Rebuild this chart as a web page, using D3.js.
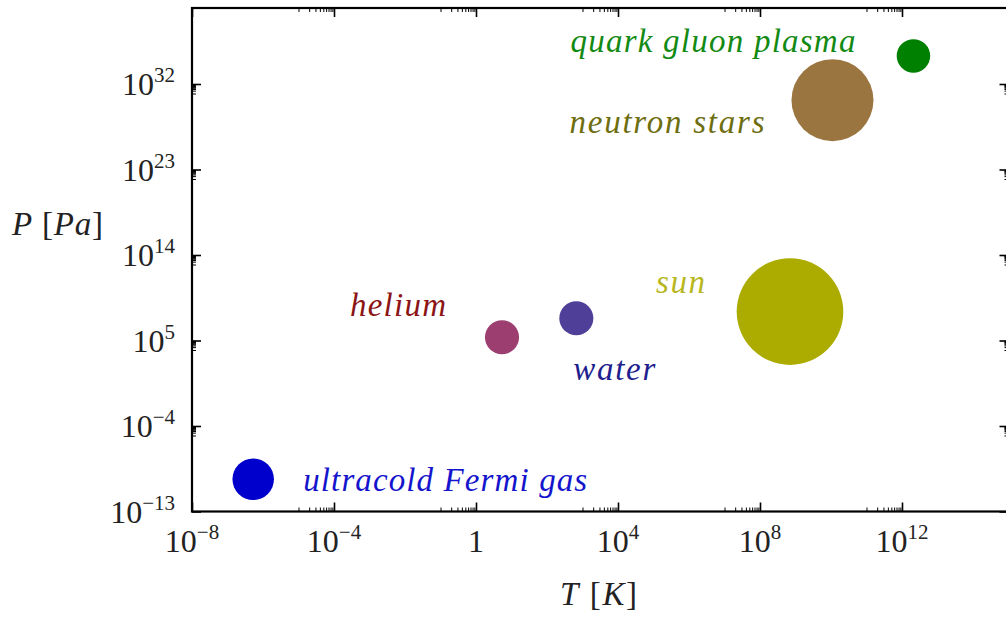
<!DOCTYPE html>
<html>
<head>
<meta charset="utf-8">
<script src="https://cdn.jsdelivr.net/npm/d3@7"></script>
<style>
  body { margin: 0; background: #fff; }
  text { font-family: "Liberation Serif", "Times New Roman", serif; }
</style>
</head>
<body>
<div id="chart"></div>
<script>
// states of matter: temperature [K] vs pressure [Pa]
const names = ["ultracold Fermi gas", "helium", "water", "sun", "neutron stars", "quark gluon plasma"]
const temps = [5.3e-7, 5.4, 670, 7e8, 1.1e10, 2.1e12]
const pressures = [2.5e-10, 2.2e5, 2.2e7, 1.1e8, 2e30, 9e34]
const weights = [4.3, 2.9, 2.9, 28.4, 16.8, 2.8]
const dotColors = ["#0000cc", "#9c3f70", "#503f98", "#abab00", "#9b7540", "#008000"]
const labelColors = ["#1414cc", "#8b1515", "#1e1e8e", "#b8b81e", "#6e6e10", "#138a13"]

const xTickExps = [-8, -4, 0, 4, 8, 12]
const yTickExps = [-13, -4, 5, 14, 23, 32]

// label placement, pixel offsets from bubble centre (layout only)
const labelLayout = [
	{dx: 50, dy: 12, w: 284},
	{dx: -152, dy: -21, w: 96},
	{dx: -3, dy: 62, w: 82},
	{dx: -134, dy: -19, w: 49},
	{dx: -263, dy: 33, w: 195},
	{dx: -343, dy: -4, w: 285}
]

const W = 1006, H = 617
const pLeft = 192, pRight = 1008.5, pTop = 8, pBottom = 511.5

const svg = d3.select("#chart").append("svg")
	.attr("width", W)
	.attr("height", H)

const x = d3.scaleLog().domain([1e-8, 1e15]).range([pLeft, pRight])
const y = d3.scaleLog().domain([1e-13, 1e40]).range([pBottom, pTop])
const r = d3.scaleSqrt().domain([0, d3.max(weights)]).range([0, 53.3])

function minorVals(exps, scale) {
	let out = []
	let d = scale.domain()
	exps.forEach(function(k) {
		for (let m = 1; m <= 9; m++) {
			let v = m * Math.pow(10, k - 1)
			if (v > d[0] && v < d[1]) out.push(v)
		}
	})
	return out
}

const xMajor = xTickExps.map(function(k) { return Math.pow(10, k) })
const yMajor = yTickExps.map(function(k) { return Math.pow(10, k) })
const xMinor = minorVals(xTickExps, x)
const yMinor = minorVals(yTickExps, y)

// ticks on all four sides, pointing inwards
function drawAxis(axisFn, scale, vals, len, sw, tx, ty) {
	let g = svg.append("g")
		.attr("transform", "translate(" + tx + "," + ty + ")")
		.call(axisFn(scale).tickValues(vals).tickSizeInner(-len).tickSizeOuter(0).tickFormat(""))
	g.select(".domain").remove()
	g.selectAll(".tick line").attr("stroke", "#000").attr("stroke-width", sw)
	return g
}

drawAxis(d3.axisBottom, x, xMinor, 4, 1, 0, pBottom)
drawAxis(d3.axisTop, x, xMinor, 4, 1, 0, pTop)
drawAxis(d3.axisLeft, y, yMinor, 4, 1, pLeft, 0)
drawAxis(d3.axisRight, y, yMinor, 4, 1, pRight, 0)
drawAxis(d3.axisBottom, x, xMajor, 9, 1.6, 0, pBottom)
drawAxis(d3.axisTop, x, xMajor, 9, 1.6, 0, pTop)
drawAxis(d3.axisLeft, y, yMajor, 9, 1.6, pLeft, 0)
drawAxis(d3.axisRight, y, yMajor, 9, 1.6, pRight, 0)

// frame
svg.append("rect")
	.attr("x", pLeft)
	.attr("y", pTop)
	.attr("width", pRight - pLeft)
	.attr("height", pBottom - pTop)
	.attr("fill", "none")
	.attr("stroke", "#000")
	.attr("stroke-width", 2.2)

function powLabel(sel, k) {
	if (k == 0) {
		sel.append("tspan").text("1")
		return
	}
	sel.append("tspan").text("10")
	sel.append("tspan")
		.attr("dy", -13)
		.style("font-size", "21px")
		.text(String(k).replace("-", "\u2212"))
}

// x tick labels
xTickExps.forEach(function(k) {
	let t = svg.append("text")
		.attr("x", x(Math.pow(10, k)))
		.attr("y", 552)
		.attr("text-anchor", "middle")
		.attr("fill", "#222")
		.style("font-size", "32px")
	powLabel(t, k)
})

// y tick labels
yTickExps.forEach(function(k) {
	let t = svg.append("text")
		.attr("x", 175)
		.attr("y", y(Math.pow(10, k)) + 11)
		.attr("text-anchor", "end")
		.attr("fill", "#222")
		.style("font-size", "32px")
	powLabel(t, k)
})

// axis titles
let tx = svg.append("text")
	.attr("x", 560)
	.attr("y", 605)
	.attr("fill", "#222")
	.attr("textLength", 77)
	.style("font-size", "33px")
tx.append("tspan").style("font-style", "italic").text("T")
tx.append("tspan").text(" [")
tx.append("tspan").style("font-style", "italic").text("K")
tx.append("tspan").text("]")

let ty = svg.append("text")
	.attr("x", 12)
	.attr("y", 235)
	.attr("fill", "#222")
	.attr("textLength", 91)
	.style("font-size", "33px")
ty.append("tspan").style("font-style", "italic").text("P")
ty.append("tspan").text(" [")
ty.append("tspan").style("font-style", "italic").text("Pa")
ty.append("tspan").text("]")

// bubbles
for (let i = 0; i < names.length; i++) {
	svg.append("circle")
		.attr("cx", x(temps[i]))
		.attr("cy", y(pressures[i]))
		.attr("r", r(weights[i]))
		.attr("fill", dotColors[i])
}

// labels
for (let i = 0; i < names.length; i++) {
	let lay = labelLayout[i]
	svg.append("text")
		.attr("x", x(temps[i]) + lay.dx)
		.attr("y", y(pressures[i]) + lay.dy)
		.attr("fill", labelColors[i])
		.attr("textLength", lay.w)
		.style("font-size", "33px")
		.style("font-style", "italic")
		.text(names[i])
}
</script>
</body>
</html>
